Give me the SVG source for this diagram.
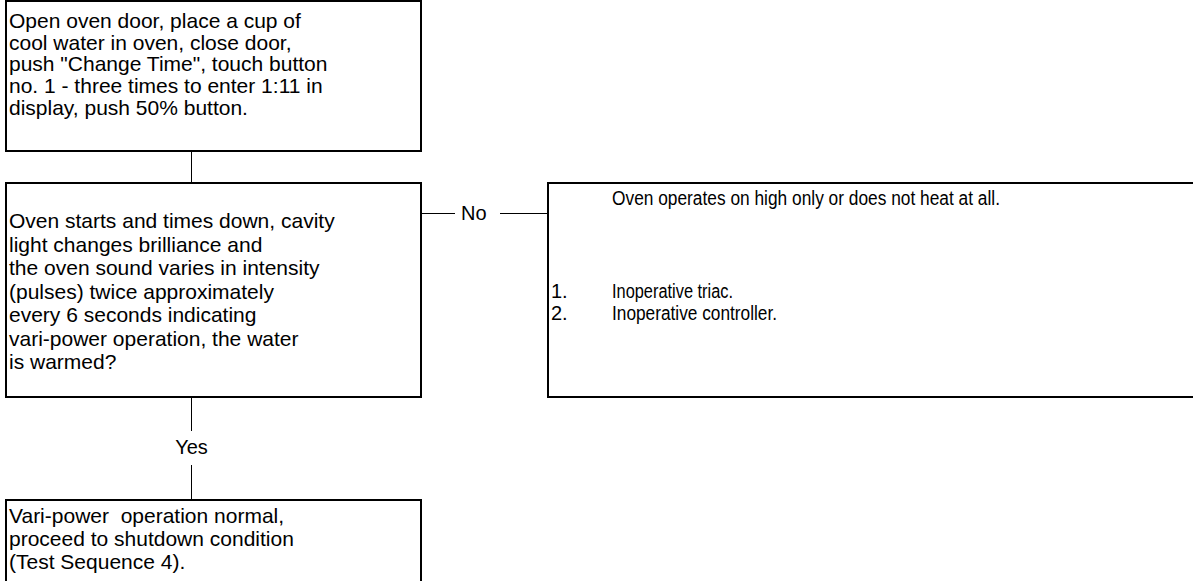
<svg xmlns="http://www.w3.org/2000/svg" width="1193" height="581" viewBox="0 0 1193 581">
  <style>
    .box { fill: #ffffff; stroke: #000000; stroke-width: 2; }
    .t { font-family: "Liberation Sans", Arial, sans-serif; font-size: 21px; fill: #000000; white-space: pre; }
    .r { font-size: 20px; }
    .c { stroke: #000000; stroke-width: 1; fill: none; }
  </style>
  <rect width="1193" height="581" fill="#ffffff"/>
  <g id="connectors">
    <line class="c" x1="191.5" y1="151" x2="191.5" y2="183"/>
    <line class="c" x1="421" y1="213.5" x2="455" y2="213.5"/>
    <line class="c" x1="500" y1="213.5" x2="548" y2="213.5"/>
    <line class="c" x1="191.5" y1="397" x2="191.5" y2="431"/>
    <line class="c" x1="191.5" y1="465" x2="191.5" y2="500"/>
    <text class="t r" x="461" y="220">No</text>
    <text class="t r" x="191.5" y="454" text-anchor="middle">Yes</text>
  </g>
  <g id="node-start">
    <rect class="box" x="6" y="1" width="415" height="150"/>
    <text class="t" x="9" y="28">Open oven door, place a cup of</text>
    <text class="t" x="9" y="49.7">cool water in oven, close door,</text>
    <text class="t" x="9" y="71.4">push "Change Time", touch button</text>
    <text class="t" x="9" y="93.1">no. 1 - three times to enter 1:11 in</text>
    <text class="t" x="9" y="114.8">display, push 50% button.</text>
  </g>
  <g id="node-question">
    <rect class="box" x="6" y="183" width="415" height="214"/>
    <text class="t" x="9" y="228">Oven starts and times down, cavity</text>
    <text class="t" x="9" y="251.5">light changes brilliance and</text>
    <text class="t" x="9" y="275">the oven sound varies in intensity</text>
    <text class="t" x="9" y="298.5">(pulses) twice approximately</text>
    <text class="t" x="9" y="322">every 6 seconds indicating</text>
    <text class="t" x="9" y="345.5">vari-power operation, the water</text>
    <text class="t" x="9" y="369">is warmed?</text>
  </g>
  <g id="node-no">
    <rect class="box" x="548" y="183" width="660" height="214"/>
    <text class="t r" x="612" y="205" textLength="388" lengthAdjust="spacingAndGlyphs">Oven operates on high only or does not heat at all.</text>
    <text class="t r" x="551" y="298">1.</text>
    <text class="t r" x="612" y="298" textLength="121" lengthAdjust="spacingAndGlyphs">Inoperative triac.</text>
    <text class="t r" x="551" y="320">2.</text>
    <text class="t r" x="612" y="320" textLength="165" lengthAdjust="spacingAndGlyphs">Inoperative controller.</text>
  </g>
  <g id="node-yes">
    <rect class="box" x="6" y="500" width="415" height="100"/>
    <text class="t" x="9" y="523">Vari-power  operation normal,</text>
    <text class="t" x="9" y="546">proceed to shutdown condition</text>
    <text class="t" x="9" y="569">(Test Sequence 4).</text>
  </g>
</svg>
